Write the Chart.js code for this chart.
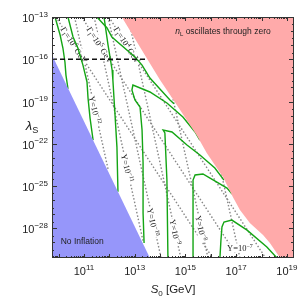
<!DOCTYPE html>
<html lang="en">
<head>
<meta charset="UTF-8">
<title>lambda_S vs S0</title>
<script src="https://cdn.jsdelivr.net/npm/chart.js"></script>
<style>
  body { margin: 0; background: #fff; }
  #wrap { width: 300px; height: 299px; }
</style>
</head>
<body>
<div id="wrap"><canvas id="plot" width="300" height="299"></canvas></div>
<script>
// values are log10(S0 / GeV) and log10(lambda_S)
const xRange = [9.74, 19.28];
const yRange = [-30.1, -13];
const xTickExp = [11, 13, 15, 17, 19];
const yTickExp = [-13, -16, -19, -22, -25, -28];

// "No Inflation" edge
const noInflS = [9.74, 13.6];
const noInflL = [-15.7, -30.1];
// "n_L oscillates through zero" edge
const oscS = [12.49, 13.47, 14.00, 14.66, 15.44, 15.84, 16.48, 16.87, 17.15, 17.54, 18.06, 18.33, 18.73, 19.28];
const oscL = [-13, -15.91, -17.47, -19.25, -21.37, -22.65, -24.36, -25.78, -26.70, -27.62, -28.47, -29.04, -30.1, -30.1];
// dashed horizontal cut
const cutS = [9.74, 13.48];
const cutL = [-16, -16];

// green contours
const c1S = [9.86, 10.06, 10.17, 10.25, 10.29, 10.37];
const c1L = [-13, -14.28, -15.20, -16.19, -17.12, -18.1];
const c2S = [10.37, 10.57, 10.76, 10.96, 11.12, 11.16, 11.24, 11.36];
const c2L = [-13, -14.42, -15.20, -16.41, -17.61, -18.75, -20.17, -21.73];
const c3S = [11.79, 11.95, 12.11, 12.14, 12.22, 12.30, 12.34];
const c3L = [-13, -14.99, -16.76, -17.47, -19.81, -22.23, -25.4];
const c3bS = [11.51, 11.91, 12.10, 13.01, 13.29, 13.60, 14.39, 14.55];
const c3bL = [-13, -13.78, -14.42, -15.84, -16.41, -17.33, -18.89, -19.15];
const c4S = [13.37, 13.33, 13.33, 13.29, 13.21, 13.01, 12.89, 12.93, 13.60, 14.27, 14.90, 15.38, 15.57];
const c4L = [-29.04, -26.91, -23.36, -21.02, -19.39, -18.89, -18.18, -17.83, -18.32, -19.10, -20.10, -21.16, -21.73];
const c5S = [14.31, 14.27, 14.19, 14.12, 14.47, 15.06, 15.57, 16.16, 16.52];
const c5L = [-30.1, -24.57, -21.23, -21.02, -21.16, -22.08, -22.79, -23.72, -24.57];
const c6S = [15.30, 15.30, 15.38, 15.69, 15.97, 16.64, 16.84];
const c6L = [-30.1, -24.57, -24.21, -24.14, -24.43, -25.14, -25.56];
const c7S = [16.36, 16.40, 16.44, 16.52, 16.83, 17.43, 18.21, 18.61];
const c7L = [-30.1, -28.83, -27.90, -27.55, -27.41, -28.12, -29.32, -30.1];

// gray dotted lines: Gamma_I = 1e6, 1e5, 1e4 GeV
const g6S = [9.89, 16.07];  const g6L = [-13, -30.1];
const g5S = [10.91, 17.09]; const g5L = [-13, -30.1];
const g4S = [11.98, 18.16]; const g4L = [-13, -30.1];
// Upsilon = 1e-12 ... 1e-7
const u12S = [10.63, 11.95]; const u12L = [-13, -23.79];
const u11S = [11.40, 13.33]; const u11L = [-13, -28.90];
const u10S = [11.95, 14.04]; const u10L = [-13, -30.1];
const u9S = [12.74, 14.82];  const u9L = [-13, -30.1];
const u8S = [13.80, 15.89];  const u8L = [-13, -30.1];
const u7S = [15.06, 17.15];  const u7L = [-13, -30.1];

// text labels: [log S0, log lambda, angle deg]
const gammaLabelPos = [[10.61, -14.99, 57], [11.63, -14.99, 57], [12.70, -14.99, 57]];
const gammaLabelExp = ['6', '5', '4'];
const upsLabelPos = [[11.43, -19.6, 77], [12.70, -23.72, 77], [13.72, -27.55, 78], [14.59, -28.26, 78], [15.61, -27.98, 78], [17.15, -29.39, 0]];
const upsLabelExp = ['\u221212', '\u221211', '\u221210', '\u22129', '\u22128', '\u22127'];

const pts = (s, l) => s.map((v, i) => ({ x: Math.pow(10, v), y: Math.pow(10, l[i]) }));

const green = 'rgb(20,165,20)';
const dotted = 'rgb(135,135,135)';
function line(s, l, color, dash, order) {
    return { data: pts(s, l), showLine: true, pointRadius: 0, borderColor: color,
             borderWidth: 1.4, borderDash: dash, fill: false, order: order };
}

const datasets = [
    { data: pts(noInflS, noInflL), showLine: true, pointRadius: 0, borderWidth: 0,
      borderColor: 'rgba(0,0,0,0)', backgroundColor: 'rgb(150,150,250)', fill: 'start', order: 0 },
    { data: pts(oscS, oscL), showLine: true, pointRadius: 0, borderWidth: 0,
      borderColor: 'rgba(0,0,0,0)', backgroundColor: 'rgb(255,170,170)', fill: 'end', order: 0 },
    line(cutS, cutL, '#111', [5, 3], 1),
    line(c1S, c1L, green, [], 2), line(c2S, c2L, green, [], 2), line(c3S, c3L, green, [], 2),
    line(c3bS, c3bL, green, [], 2), line(c4S, c4L, green, [], 2), line(c5S, c5L, green, [], 2),
    line(c6S, c6L, green, [], 2), line(c7S, c7L, green, [], 2),
    // empty dataset: contour labels are painted right after it (above dotted, below green)
    { data: [], labelsAfter: true, order: 2.5 },
    line(g6S, g6L, dotted, [1.5, 2], 3), line(g5S, g5L, dotted, [1.5, 2], 3), line(g4S, g4L, dotted, [1.5, 2], 3),
    line(u12S, u12L, dotted, [1.5, 2], 3), line(u11S, u11L, dotted, [1.5, 2], 3), line(u10S, u10L, dotted, [1.5, 2], 3),
    line(u9S, u9L, dotted, [1.5, 2], 3), line(u8S, u8L, dotted, [1.5, 2], 3), line(u7S, u7L, dotted, [1.5, 2], 3)
];

// text with sub/superscripts, centred at x,y and rotated
function rich(c, x, y, deg, parts, size, family, bg) {
    const fonts = parts.map(p => (p[1] === 'i' ? 'italic ' : '') +
        ((p[1] === 'sup' || p[1] === 'sub') ? size * 0.7 : size) + 'px ' + family);
    let w = 0;
    const widths = parts.map((p, i) => { c.font = fonts[i]; const m = c.measureText(p[0]).width; w += m; return m; });
    c.save();
    c.translate(x, y);
    c.rotate(deg * Math.PI / 180);
    if (bg) {
        c.fillStyle = '#fff';
        c.fillRect(-w / 2 - 1, -size * 0.55, w + 2, size * 1.1);
        c.fillStyle = '#222';
    }
    c.textBaseline = 'alphabetic';
    c.textAlign = 'left';
    let cx = -w / 2;
    parts.forEach((p, i) => {
        c.font = fonts[i];
        const dy = p[1] === 'sup' ? -size * 0.4 : p[1] === 'sub' ? size * 0.25 : 0;
        c.fillText(p[0], cx, size * 0.35 + dy);
        cx += widths[i];
    });
    c.restore();
}

const serif = 'Liberation Serif, serif';
const sans = 'Liberation Sans, Arial, sans-serif';

const labelPlugin = {
    id: 'contourLabels',
    afterDatasetDraw(chart, args) {
        if (!chart.data.datasets[args.index].labelsAfter) return;
        const c = chart.ctx, xs = chart.scales.x, ys = chart.scales.y, a = chart.chartArea;
        const X = v => xs.getPixelForValue(Math.pow(10, v));
        const Y = v => ys.getPixelForValue(Math.pow(10, v));
        c.save();
        c.beginPath();
        c.rect(a.left, a.top, a.right - a.left, a.bottom - a.top);
        c.clip();
        c.fillStyle = '#222';
        gammaLabelPos.forEach((p, i) => {
            rich(c, X(p[0]), Y(p[1]), p[2], [['\u0393', 'n'], ['I', 'sub'], ['=10', 'n'], [gammaLabelExp[i], 'sup'], [' GeV', 'n']], 8.5, serif, true);
        });
        upsLabelPos.forEach((p, i) => {
            rich(c, X(p[0]), Y(p[1]), p[2], [['\u03A5=10', 'n'], [upsLabelExp[i], 'sup']], 8.5, serif, true);
        });
        c.restore();
    }
};

const framePlugin = {
    id: 'frame',
    afterDraw(chart) {
        const c = chart.ctx, a = chart.chartArea;
        const xs = chart.scales.x, ys = chart.scales.y;
        c.save();
        c.strokeStyle = '#333';
        c.lineWidth = 1;
        c.strokeRect(a.left + 0.5, a.top + 0.5, a.right - a.left - 1, a.bottom - a.top - 1);
        c.beginPath();
        for (let e = 9; e <= 19; e++) {
            for (let k = 1; k <= 9; k++) {
                const v = k * Math.pow(10, e);
                if (v < xs.min || v > xs.max) continue;
                const px = Math.round(xs.getPixelForValue(v)) + 0.5;
                const len = k === 1 ? 4 : 2;
                c.moveTo(px, a.bottom); c.lineTo(px, a.bottom - len);
                c.moveTo(px, a.top); c.lineTo(px, a.top + len);
            }
        }
        for (let e = -31; e <= -13; e++) {
            [1, 3].forEach(k => {
                const v = k * Math.pow(10, e);
                if (v < ys.min || v > ys.max) return;
                const py = Math.round(ys.getPixelForValue(v)) + 0.5;
                const len = k === 1 ? (yTickExp.includes(e) ? 5 : 3) : 2;
                c.moveTo(a.left, py); c.lineTo(a.left + len, py);
                c.moveTo(a.right, py); c.lineTo(a.right - len, py);
            });
        }
        c.stroke();

        // tick labels 10^n
        c.fillStyle = '#222';
        c.textBaseline = 'alphabetic';
        const base = '11px ' + sans, expo = '8px ' + sans;
        const tickText = e => {
            c.font = base; const wb = c.measureText('10').width;
            c.font = expo; const we = c.measureText(String(e).replace('-', '\u2212')).width;
            return [wb, we];
        };
        yTickExp.forEach(e => {
            const py = ys.getPixelForValue(Math.pow(10, e));
            const [wb, we] = tickText(e);
            const right = a.left - 4;
            c.textAlign = 'left';
            c.font = base; c.fillText('10', right - we - wb, py + 5);
            c.font = expo; c.fillText(String(e).replace('-', '\u2212'), right - we, py - 0.5);
        });
        xTickExp.forEach(e => {
            const px = xs.getPixelForValue(Math.pow(10, e));
            const [wb, we] = tickText(e);
            const left = px - (wb + we) / 2;
            c.textAlign = 'left';
            c.font = base; c.fillText('10', left, a.bottom + 17);
            c.font = expo; c.fillText(String(e), left + wb, a.bottom + 12);
        });

        // region labels
        const X = v => xs.getPixelForValue(Math.pow(10, v));
        const Y = v => ys.getPixelForValue(Math.pow(10, v));
        rich(c, X(16.48), Y(-13.99), 0, [['n', 'i'], ['L', 'sub'], [' oscillates through zero', 'n']], 8.5, sans);
        rich(c, X(10.93), Y(-28.9), 0, [['No Inflation', 'n']], 8.5, sans);

        // axis titles
        rich(c, 32, 125, 0, [['\u03BB', 'i'], ['S', 'sub']], 13, sans);
        rich(c, (a.left + a.right) / 2, 289, 0, [['S', 'i'], ['0', 'sub'], [' [GeV]', 'n']], 11.5, sans);
        c.restore();
    }
};

new Chart(document.getElementById('plot').getContext('2d'), {
    type: 'scatter',
    data: { datasets: datasets },
    options: {
        responsive: false,
        animation: false,
        layout: { padding: { left: 0, right: 6, top: 17, bottom: 0 } },
        plugins: { legend: { display: false }, tooltip: { enabled: false } },
        scales: {
            x: {
                type: 'logarithmic',
                min: Math.pow(10, xRange[0]),
                max: Math.pow(10, xRange[1]),
                afterBuildTicks: s => { s.ticks = xTickExp.map(e => ({ value: Math.pow(10, e) })); },
                afterFit: s => { s.height = 41; },
                grid: { display: false },
                border: { display: false },
                ticks: { display: false }
            },
            y: {
                type: 'logarithmic',
                min: Math.pow(10, yRange[0]),
                max: Math.pow(10, yRange[1]),
                afterBuildTicks: s => { s.ticks = yTickExp.map(e => ({ value: Math.pow(10, e) })); },
                afterFit: s => { s.width = 52; },
                grid: { display: false },
                border: { display: false },
                ticks: { display: false }
            }
        }
    },
    plugins: [labelPlugin, framePlugin]
});
</script>
</body>
</html>
